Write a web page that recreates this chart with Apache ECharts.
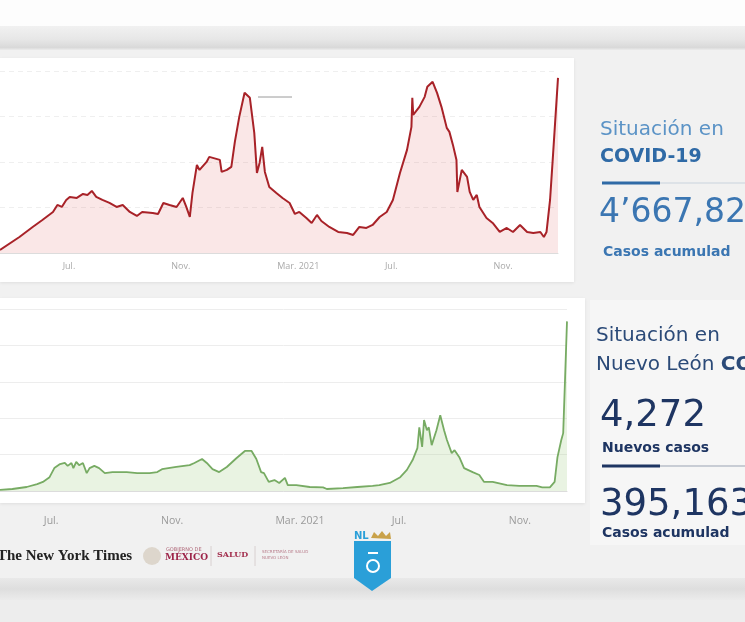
<!DOCTYPE html>
<html>
<head>
<meta charset="utf-8">
<script src="https://cdn.jsdelivr.net/npm/echarts@6/dist/echarts.min.js"></script>
<style>
  html, body { margin: 0; padding: 0; width: 745px; height: 622px; overflow: hidden; background: #efefef; }
  .b { position: absolute; }
  #chart { position: absolute; left: 0; top: 0; width: 745px; height: 622px; }
</style>
</head>
<body>
<!-- page background, cards and footer bands -->
<div class="b" style="left:0;top:0;width:745px;height:26px;background:#fdfdfd"></div>
<div class="b" style="left:0;top:26px;width:745px;height:24px;background:linear-gradient(#f1f1f1,#e7e7e7 55%,#d9d9d9 90%,#ececec)"></div>
<div class="b" style="left:0;top:50px;width:745px;height:530px;background:#f1f1f1"></div>
<div class="b" style="left:0;top:58px;width:574px;height:224px;background:#fff;box-shadow:0 1px 3px rgba(0,0,0,0.08)"></div>
<div class="b" style="left:0;top:298px;width:585px;height:205px;background:#fff;box-shadow:0 1px 3px rgba(0,0,0,0.08)"></div>
<div class="b" style="left:590px;top:300px;width:155px;height:245px;background:#f6f6f6"></div>
<div class="b" style="left:0;top:578px;width:745px;height:22px;background:linear-gradient(#e9e9e9,#dedede 50%,#ebebeb)"></div>
<div class="b" style="left:0;top:600px;width:745px;height:22px;background:#ededed"></div>
<div id="chart"></div>
<script>
// Mexico, new cases (top chart)
const mxDates = [
  '2020-04-21', '2020-05-13', '2020-05-28', '2020-06-08', '2020-06-20', '2020-06-25', '2020-06-30',
  '2020-07-05', '2020-07-09', '2020-07-17', '2020-07-24', '2020-07-29', '2020-08-03', '2020-08-08',
  '2020-08-15', '2020-08-23', '2020-08-31', '2020-09-07', '2020-09-15', '2020-09-23', '2020-09-29',
  '2020-10-11', '2020-10-17', '2020-10-23', '2020-10-30', '2020-11-07', '2020-11-14', '2020-11-18',
  '2020-11-22', '2020-11-25', '2020-11-30', '2020-12-03', '2020-12-11', '2020-12-14', '2020-12-22',
  '2020-12-26', '2020-12-28', '2021-01-03', '2021-01-08', '2021-01-12', '2021-01-17', '2021-01-23',
  '2021-01-29', '2021-02-03', '2021-02-06', '2021-02-09', '2021-02-12', '2021-02-15', '2021-02-20',
  '2021-02-28', '2021-03-07', '2021-03-15', '2021-03-21', '2021-03-26', '2021-04-03', '2021-04-09',
  '2021-04-15', '2021-04-20', '2021-04-29', '2021-05-09', '2021-05-19', '2021-05-26', '2021-06-02',
  '2021-06-10', '2021-06-17', '2021-06-25', '2021-07-03', '2021-07-10', '2021-07-18', '2021-07-26',
  '2021-07-31', '2021-08-01', '2021-08-02', '2021-08-09', '2021-08-15', '2021-08-18', '2021-08-24',
  '2021-08-29', '2021-09-03', '2021-09-09', '2021-09-12', '2021-09-16', '2021-09-20', '2021-09-21',
  '2021-09-26', '2021-10-02', '2021-10-05', '2021-10-09', '2021-10-13', '2021-10-16', '2021-10-24',
  '2021-10-31', '2021-11-08', '2021-11-16', '2021-11-23', '2021-12-01', '2021-12-09', '2021-12-16',
  '2021-12-24', '2021-12-28', '2021-12-31', '2022-01-04', '2022-01-07', '2022-01-13'
];
const mxCases = [
  330, 1760, 2860, 3630, 4510, 5280, 5060,
  5830, 6160, 6050, 6490, 6380, 6820, 6160,
  5830, 5500, 5060, 5280, 4510, 4070, 4510,
  4400, 4290, 5500, 5280, 5060, 6050, 5060,
  3960, 6600, 9680, 9130, 10010, 10560, 10340,
  10230, 8910, 9130, 9460, 12210, 14960, 17600,
  17050, 13200, 8800, 9900, 11660, 8910, 7260,
  6600, 6050, 5500, 4290, 4510, 3850, 3300,
  4180, 3520, 2860, 2310, 2200, 1980, 2860,
  2750, 3080, 3960, 4510, 5830, 8800, 11330,
  13860, 17050, 15180, 16060, 17160, 18260, 18810,
  17600, 16060, 13750, 13310, 11880, 10230, 6710,
  9130, 8360, 6710, 5830, 6380, 5060, 3850,
  3300, 2310, 2750, 2310, 3080, 2310, 2200,
  2310, 1760, 2310, 5830, 10230, 19250
];

// Nuevo León, new cases (bottom chart)
const nlDates = [
  '2020-05-16', '2020-05-29', '2020-06-13', '2020-06-24', '2020-06-30', '2020-07-07', '2020-07-12',
  '2020-07-18', '2020-07-23', '2020-07-26', '2020-07-30', '2020-08-01', '2020-08-04', '2020-08-07',
  '2020-08-11', '2020-08-15', '2020-08-18', '2020-08-23', '2020-08-28', '2020-09-03', '2020-09-11',
  '2020-09-26', '2020-10-07', '2020-10-20', '2020-10-28', '2020-11-02', '2020-11-17', '2020-12-01',
  '2020-12-06', '2020-12-14', '2020-12-19', '2020-12-25', '2021-01-01', '2021-01-09', '2021-01-19',
  '2021-01-28', '2021-02-04', '2021-02-09', '2021-02-14', '2021-02-17', '2021-02-22', '2021-02-28',
  '2021-03-05', '2021-03-11', '2021-03-14', '2021-03-23', '2021-04-06', '2021-04-20', '2021-04-24',
  '2021-05-11', '2021-05-26', '2021-06-11', '2021-06-18', '2021-06-29', '2021-07-10', '2021-07-17',
  '2021-07-23', '2021-07-28', '2021-07-30', '2021-08-02', '2021-08-04', '2021-08-07', '2021-08-09',
  '2021-08-12', '2021-08-17', '2021-08-21', '2021-08-25', '2021-08-28', '2021-09-02', '2021-09-05',
  '2021-09-10', '2021-09-15', '2021-09-24', '2021-10-01', '2021-10-06', '2021-10-15', '2021-10-30',
  '2021-11-12', '2021-11-30', '2021-12-06', '2021-12-14', '2021-12-19', '2021-12-22', '2021-12-26',
  '2021-12-28', '2021-12-30', '2022-01-01'
];
const nlCases = [
  30, 55, 110, 190, 250, 380, 630,
  740, 770, 690, 770, 630, 800, 710,
  770, 490, 630, 690, 630, 490, 520,
  520, 490, 490, 520, 600, 660, 710,
  770, 880, 770, 600, 520, 660, 900,
  1100, 1100, 880, 520, 490, 250, 300,
  220, 360, 160, 160, 110, 100, 55,
  80, 110, 140, 160, 220, 380, 580,
  850, 1180, 1750, 1210, 1950, 1670, 1750,
  1260, 1670, 2080, 1670, 1400, 1040, 1120,
  930, 630, 520, 440, 250, 250, 160,
  140, 140, 100, 100, 250, 930, 1400,
  1590, 3120, 4660
];

const tickDates = ['2020-07-01', '2020-11-01', '2021-03-01', '2021-07-01', '2021-11-01'];
const tickLabels = ['Jul.', 'Nov.', 'Mar. 2021', 'Jul.', 'Nov.'];

// local-time timestamp from 'YYYY-MM-DD'
function ts(s) {
  const p = s.split('-');
  return new Date(+p[0], +p[1] - 1, +p[2]).getTime();
}

const tickTs = tickDates.map(ts);

function tickName(v) {
  const i = tickTs.indexOf(v);
  return i >= 0 ? tickLabels[i] : '';
}

function pairs(dates, values) {
  return dates.map((d, i) => [ts(d), values[i]]);
}

// dates are kept as timestamps on a value axis, labels placed on the month starts
function xAxisFor(gridIndex, first, last, labelOpts) {
  return {
    type: 'value',
    gridIndex: gridIndex,
    min: ts(first),
    max: ts(last),
    axisLine: { show: true, lineStyle: { color: '#dcdcdc', width: 1 } },
    axisTick: { show: false },
    splitLine: { show: false },
    axisLabel: Object.assign({
      customValues: tickTs,
      formatter: tickName,
      align: 'left',
      fontFamily: 'Open Sans'
    }, labelOpts)
  };
}

const chart = echarts.init(document.getElementById('chart'), null, { renderer: 'canvas', width: 745, height: 622 });

const blueLight = '#5b93c6';
const blueMid = '#3b76b2';
const navy = '#1e3562';
const panelFont = '"DejaVu Sans"';

function txt(x, y, text, fill, size, bold) {
  return {
    type: 'text', x: x, y: y, z: 10,
    style: { text: text, fill: fill, font: (bold ? 'bold ' : '') + size + 'px ' + panelFont }
  };
}

chartOptions = {
  backgroundColor: 'transparent',
  animation: false,
  grid: [
    { left: 0, width: 558, top: 71, height: 182 },
    { left: 0, width: 567, top: 309, height: 182 }
  ],
  xAxis: [
    xAxisFor(0, mxDates[0], mxDates[mxDates.length - 1], { color: '#a9a9a9', fontSize: 9, margin: 9 }),
    xAxisFor(1, nlDates[0], nlDates[nlDates.length - 1], { color: '#9a9a9a', fontSize: 10.5, margin: 25 })
  ],
  yAxis: [
    {
      type: 'value', gridIndex: 0, min: 0, max: 20000, interval: 5000,
      axisLine: { show: false }, axisTick: { show: false }, axisLabel: { show: false },
      splitLine: { lineStyle: { color: '#efefef', type: [5, 4] } }
    },
    {
      type: 'value', gridIndex: 1, min: 0, max: 5000, interval: 1000,
      axisLine: { show: false }, axisTick: { show: false }, axisLabel: { show: false },
      splitLine: { lineStyle: { color: '#ededed' } }
    }
  ],
  series: [
    {
      type: 'line', xAxisIndex: 0, yAxisIndex: 0, data: pairs(mxDates, mxCases),
      showSymbol: false, silent: true,
      lineStyle: { color: '#a82228', width: 2 },
      areaStyle: { color: 'rgba(226,120,120,0.25)' }
    },
    {
      type: 'line', xAxisIndex: 1, yAxisIndex: 1, data: pairs(nlDates, nlCases),
      showSymbol: false, silent: true,
      lineStyle: { color: '#77ab63', width: 1.8 },
      areaStyle: { color: 'rgba(150,200,120,0.3)' }
    }
  ],
  graphic: [
    // small legend stroke in top chart
    { type: 'line', shape: { x1: 258, y1: 97, x2: 292, y2: 97 }, style: { stroke: '#9a9a9a', lineWidth: 1 }, z: 10 },

    // right panel, top
    txt(600, 120, 'Situación en', blueLight, 20, false),
    txt(600, 148, 'COVID-19', '#2f6aa6', 19, true),
    { type: 'line', shape: { x1: 602, y1: 183, x2: 745, y2: 183 }, style: { stroke: '#c9d3dd', lineWidth: 1 }, z: 10 },
    { type: 'line', shape: { x1: 602, y1: 183, x2: 660, y2: 183 }, style: { stroke: '#2f6aa6', lineWidth: 3 }, z: 11 },
    txt(599, 197, '4’667,82', blueMid, 33, false),
    txt(603, 245, 'Casos acumulad', blueMid, 14, true),

    // right panel, bottom
    txt(596, 326, 'Situación en', '#2b4a78', 20, false),
    {
      type: 'text', x: 596, y: 355, z: 10,
      style: {
        text: 'Nuevo León {b|CO}', fill: '#2b4a78', font: '20px ' + panelFont,
        rich: { b: { fill: '#2b4a78', fontWeight: 'bold', fontSize: 20, fontFamily: 'DejaVu Sans' } }
      }
    },
    txt(600, 398, '4,272', navy, 37, false),
    txt(602, 441, 'Nuevos casos', navy, 14, true),
    { type: 'line', shape: { x1: 602, y1: 466, x2: 745, y2: 466 }, style: { stroke: '#9aa3b3', lineWidth: 1 }, z: 10 },
    { type: 'line', shape: { x1: 602, y1: 466, x2: 660, y2: 466 }, style: { stroke: navy, lineWidth: 3 }, z: 11 },
    txt(600, 487, '395,163', navy, 37, false),
    txt(602, 526, 'Casos acumulad', navy, 14, true),

    // footer logos
    { type: 'text', x: -3, y: 549, z: 10, style: { text: 'The New York Times', fill: '#222', font: 'bold 15px "Liberation Serif"' } },
    { type: 'circle', shape: { cx: 152, cy: 556, r: 9 }, style: { fill: '#ddd6cc' }, z: 10 },
    { type: 'text', x: 166, y: 547, z: 10, style: { text: 'GOBIERNO DE', fill: '#b0697a', font: '5px "DejaVu Sans"' } },
    { type: 'text', x: 165, y: 553, z: 10, style: { text: 'MÉXICO', fill: '#9d2449', font: 'bold 9px "DejaVu Serif"' } },
    { type: 'line', shape: { x1: 211, y1: 546, x2: 211, y2: 566 }, style: { stroke: '#d8d0d0', lineWidth: 1 }, z: 10 },
    { type: 'text', x: 217, y: 551, z: 10, style: { text: 'SALUD', fill: '#a3304f', font: 'bold 8px "DejaVu Serif"' } },
    { type: 'line', shape: { x1: 255, y1: 546, x2: 255, y2: 566 }, style: { stroke: '#d8d0d0', lineWidth: 1 }, z: 10 },
    { type: 'text', x: 262, y: 550, z: 10, style: { text: 'SECRETARÍA DE SALUD', fill: '#b87c8a', font: '4px "DejaVu Sans"' } },
    { type: 'text', x: 262, y: 556, z: 10, style: { text: 'NUEVO LEÓN', fill: '#b87c8a', font: '4px "DejaVu Sans"' } },

    // Nuevo León shield
    { type: 'text', x: 354, y: 531, z: 10, style: { text: 'NL', fill: '#2a9fd8', font: 'bold 10px "DejaVu Sans"' } },
    { type: 'polygon', shape: { points: [[371, 538], [374, 532], [378, 536], [382, 531], [386, 536], [390, 532], [391, 539]] }, style: { fill: '#c9a24a' }, z: 10 },
    { type: 'polygon', shape: { points: [[354, 541], [391, 541], [391, 578], [372, 591], [354, 578]] }, style: { fill: '#2a9fd8' }, z: 10 },
    { type: 'circle', shape: { cx: 373, cy: 566, r: 6 }, style: { fill: 'none', stroke: '#fff', lineWidth: 2 }, z: 11 },
    { type: 'line', shape: { x1: 368, y1: 553, x2: 378, y2: 553 }, style: { stroke: '#fff', lineWidth: 2 }, z: 11 }
  ]
};

chart.setOption(chartOptions);
</script>
</body>
</html>
